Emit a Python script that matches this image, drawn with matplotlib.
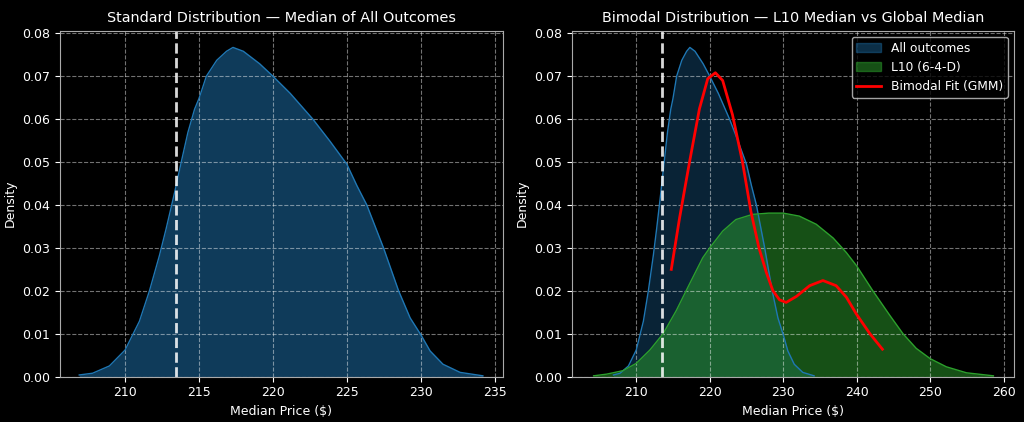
import numpy as np
import matplotlib.pyplot as plt
from matplotlib.patches import Patch
from matplotlib.lines import Line2D

plt.style.use('dark_background')

# KDE of the median over all outcomes
all_x = [206.9, 207.8, 208.94, 210.0, 210.52, 210.97, 211.65, 212.33, 212.78, 213.35, 213.8, 214.25,
         214.7, 215.0, 215.5, 216.2, 216.86, 217.3, 218.0, 219.1, 220.0, 221.17, 222.7, 223.87,
         225.0, 225.68, 226.35, 227.48, 228.5, 229.28, 230.0, 230.63, 231.5, 232.66, 234.2]
all_y = [0.0004, 0.0008, 0.0025, 0.0062, 0.0098, 0.0129, 0.020, 0.0283, 0.0345, 0.0429, 0.050, 0.0569,
         0.0623, 0.0648, 0.070, 0.0737, 0.0758, 0.0767, 0.0758, 0.0729, 0.0700, 0.066, 0.060, 0.0548,
         0.0495, 0.0445, 0.040, 0.030, 0.020, 0.0137, 0.0098, 0.006, 0.0029, 0.001, 0.0002]

# KDE of L10 (6-4-D) medians
l10_x = [204.2, 206.0, 208.2, 210.0, 211.85, 213.65, 215.45, 217.25, 219.05, 220.0, 221.76, 223.56,
         225.8, 228.0, 230.0, 232.2, 234.5, 236.8, 238.6, 240.0, 242.2, 244.5, 246.3, 248.1,
         250.0, 252.2, 254.95, 258.6]
l10_y = [0.0002, 0.0006, 0.0014, 0.0031, 0.0062, 0.010, 0.0154, 0.0216, 0.0277, 0.030, 0.0339, 0.0366,
         0.0378, 0.0381, 0.0381, 0.0374, 0.0355, 0.0323, 0.0289, 0.0258, 0.020, 0.0143, 0.010, 0.0066,
         0.0042, 0.0023, 0.0009, 0.0002]

# bimodal GMM fit
gmm_x = [214.77, 215.9, 217.25, 218.6, 219.73, 220.77, 221.76, 223.1, 224.46, 225.6, 226.7, 227.7,
         228.6, 229.5, 230.4, 231.8, 233.6, 235.4, 237.2, 238.6, 239.95, 241.8, 243.5]
gmm_y = [0.025, 0.037, 0.050, 0.0624, 0.0694, 0.0708, 0.069, 0.061, 0.050, 0.0385, 0.030, 0.0243,
         0.020, 0.0179, 0.0173, 0.0187, 0.0212, 0.0224, 0.0212, 0.0185, 0.0146, 0.010, 0.0064]

global_median = 213.45

fig = plt.figure(figsize=(10.24, 4.22), dpi=100)
ax1 = fig.add_axes([0.0586, 0.1074, 0.4326, 0.8199])
ax2 = fig.add_axes([0.5586, 0.1074, 0.4316, 0.8199])

blue = '#1f77b4'
green = '#2ca02c'

# left: standard distribution
ax1.fill_between(all_x, all_y, color=blue, alpha=0.5, lw=0)
ax1.plot(all_x, all_y, color=blue, lw=1)
ax1.axvline(global_median, color='white', ls='--', lw=2, alpha=0.85)
ax1.set_title('Standard Distribution — Median of All Outcomes')

# right: bimodal
ax2.fill_between(all_x, all_y, color=blue, alpha=0.3, lw=0)
ax2.plot(all_x, all_y, color=blue, lw=1)
ax2.fill_between(l10_x, l10_y, color=green, alpha=0.5, lw=0)
ax2.plot(l10_x, l10_y, color=green, lw=1)
ax2.plot(gmm_x, gmm_y, color='red', lw=2)
ax2.axvline(global_median, color='white', ls='--', lw=2, alpha=0.85)
ax2.set_title('Bimodal Distribution — L10 Median vs Global Median')

handles = [Patch(facecolor=blue, alpha=0.4, edgecolor=blue),
           Patch(facecolor=green, alpha=0.5, edgecolor=green),
           Line2D([0], [0], color='red', lw=2)]
ax2.legend(handles, ['All outcomes', 'L10 (6-4-D)', 'Bimodal Fit (GMM)'], loc='upper right', fontsize=8.8)

ax1.set_xticks([210, 215, 220, 225, 230, 235])
ax2.set_xticks([210, 220, 230, 240, 250, 260])
for ax in (ax1, ax2):
    ax.set_ylim(0, 0.0806)
    ax.set_xlabel('Median Price ($)', fontsize=9)
    ax.set_ylabel('Density', fontsize=9)
    ax.tick_params(labelsize=9)
    ax.grid(True, ls='--', alpha=0.45)
    ax.title.set_fontsize(10.4)
    for s in ax.spines.values():
        s.set_color('#aaaaaa')
ax1.set_xlim(205.6, 235.56)
ax2.set_xlim(201.26, 261.4)

plt.savefig('out.png', dpi=100)
